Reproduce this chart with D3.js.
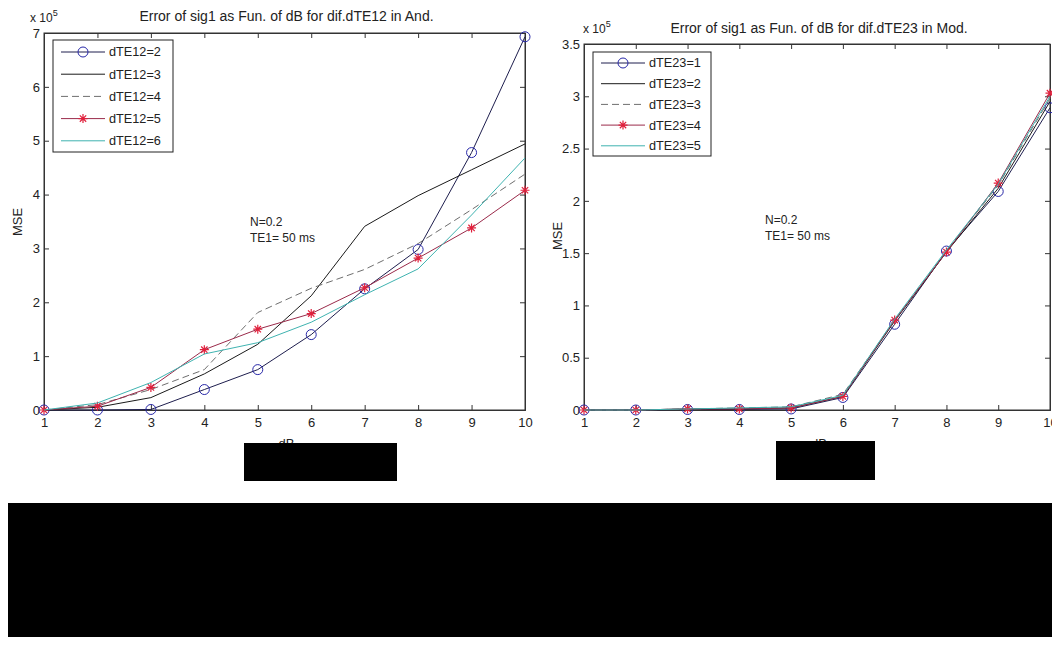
<!DOCTYPE html>
<html>
<head>
<meta charset="utf-8">
<script src="https://cdn.jsdelivr.net/npm/d3@7"></script>
<style>
  html, body { margin: 0; padding: 0; background: #fff; }
  svg { display: block; }
  text { font-family: "Liberation Sans", Arial, sans-serif; fill: #222; }
</style>
</head>
<body>
<svg id="fig" width="1052" height="652"></svg>
<script>
// dB values shared by both panels
const dB = [1, 2, 3, 4, 5, 6, 7, 8, 9, 10];

// Left panel: MSE (x 10^5) for different dTE12 values
const leftNames = ["dTE12=2", "dTE12=3", "dTE12=4", "dTE12=5", "dTE12=6"];
const mseTE12_2 = [0, 0.00, 0.01, 0.38, 0.75, 1.40, 2.25, 2.98, 4.78, 6.93];
const mseTE12_3 = [0, 0.05, 0.23, 0.67, 1.22, 2.12, 3.41, 3.98, 4.46, 4.94];
const mseTE12_4 = [0, 0.10, 0.38, 0.75, 1.81, 2.26, 2.61, 3.09, 3.72, 4.38];
const mseTE12_5 = [0, 0.07, 0.42, 1.12, 1.50, 1.79, 2.27, 2.82, 3.38, 4.08];
const mseTE12_6 = [0, 0.13, 0.51, 1.04, 1.25, 1.63, 2.14, 2.62, 3.62, 4.68];

// Right panel: MSE (x 10^5) for different dTE23 values
const rightNames = ["dTE23=1", "dTE23=2", "dTE23=3", "dTE23=4", "dTE23=5"];
const mseTE23_1 = [0, 0, 0.005, 0.005, 0.01, 0.12, 0.82, 1.52, 2.09, 2.89];
const mseTE23_2 = [0, 0, 0.01, 0.01, 0.02, 0.13, 0.85, 1.51, 2.12, 2.95];
const mseTE23_3 = [0, 0, 0.01, 0.02, 0.03, 0.15, 0.86, 1.52, 2.15, 2.98];
const mseTE23_4 = [0, 0, 0.01, 0.01, 0.02, 0.13, 0.86, 1.51, 2.17, 3.03];
const mseTE23_5 = [0, 0, 0.01, 0.02, 0.03, 0.14, 0.87, 1.53, 2.16, 3.00];

const leftYTicks = [0, 1, 2, 3, 4, 5, 6, 7];
const rightYTicks = [0, 0.5, 1, 1.5, 2, 2.5, 3, 3.5];

// line styles per series slot: circles, plain, dashed, stars, teal
const styles = [
  { line: "#1e1e4e", marker: "circle", mcolor: "#2828a8", dash: null },
  { line: "#1a1a1a", marker: null, dash: null },
  { line: "#6e6e6e", marker: null, dash: "7,4" },
  { line: "#9a2a4a", marker: "star", mcolor: "#e0203c", dash: null },
  { line: "#3fb3b0", marker: null, dash: null }
];

const svg = d3.select("#fig");

function asterisk(s) {
  const d = s * 0.707;
  return `M${-s},0L${s},0M0,${-s}L0,${s}M${-d},${-d}L${d},${d}M${-d},${d}L${d},${-d}`;
}

function drawPanel(cfg) {
  const { x, y, series, names, yTicks, title, titleY, expo, expoDx, legend, note } = cfg;
  const g = svg.append("g");
  const [x0, x1] = x.range();
  const [y0, y1] = y.range();

  // frame
  g.append("rect").attr("x", x0).attr("y", y1).attr("width", x1 - x0).attr("height", y0 - y1)
    .attr("fill", "#fff").attr("stroke", "#333").attr("stroke-width", 1);

  // axes with inward ticks
  const fmt = d3.format("");
  const bottom = g.append("g").attr("transform", `translate(0,${y0})`)
    .call(d3.axisBottom(x).tickValues(dB).tickSize(-5).tickPadding(8).tickFormat(fmt));
  g.append("g").attr("transform", `translate(0,${y1})`)
    .call(d3.axisTop(x).tickValues(dB).tickSize(-5).tickFormat(""));
  g.append("g").attr("transform", `translate(${x0},0)`)
    .call(d3.axisLeft(y).tickValues(yTicks).tickSize(-5).tickPadding(4).tickFormat(fmt));
  g.append("g").attr("transform", `translate(${x1},0)`)
    .call(d3.axisRight(y).tickValues(yTicks).tickSize(-5).tickFormat(""));
  g.selectAll(".domain").attr("stroke", "#333");
  g.selectAll(".tick line").attr("stroke", "#333");
  g.selectAll(".tick text").attr("font-size", 13).attr("fill", "#333")
    .attr("font-family", "Liberation Sans, Arial, sans-serif");
  bottom.selectAll(".tick text").attr("dy", "0.71em");

  // series
  const line = d3.line().x((d, i) => x(dB[i])).y(d => y(d));
  series.forEach((vals, k) => {
    const st = styles[k];
    g.append("path").datum(vals).attr("d", line).attr("fill", "none")
      .attr("stroke", st.line).attr("stroke-width", 1)
      .attr("stroke-dasharray", st.dash);
    if (st.marker === "circle") {
      g.selectAll(null).data(vals).join("circle")
        .attr("cx", (d, i) => x(dB[i])).attr("cy", d => y(d)).attr("r", 5)
        .attr("fill", "none").attr("stroke", st.mcolor).attr("stroke-width", 1);
    } else if (st.marker === "star") {
      g.selectAll(null).data(vals).join("path")
        .attr("transform", (d, i) => `translate(${x(dB[i])},${y(d)})`)
        .attr("d", asterisk(4.5)).attr("fill", "none")
        .attr("stroke", st.mcolor).attr("stroke-width", 1.2);
    }
  });

  // title and exponent label
  g.append("text").attr("x", (x0 + x1) / 2 + 2).attr("y", titleY).attr("text-anchor", "middle")
    .attr("font-size", 14).text(title);
  const ex = g.append("text").attr("x", x0 + expoDx).attr("y", y1 - 11).attr("font-size", 12);
  ex.append("tspan").text("x 10");
  ex.append("tspan").attr("dy", -6).attr("font-size", 9).text(expo);

  // axis labels
  g.append("text").attr("x", (x0 + x1) / 2 + 2).attr("y", y0 + 38).attr("text-anchor", "middle")
    .attr("font-size", 13).text("dB");
  g.append("text").attr("transform", `translate(${x0 - 22},${cfg.msY}) rotate(-90)`)
    .attr("text-anchor", "middle").attr("font-size", 13).text("MSE");

  // annotation
  g.append("text").attr("x", note[0]).attr("y", note[1]).attr("font-size", 12).text("N=0.2");
  g.append("text").attr("x", note[0]).attr("y", note[1] + 16).attr("font-size", 12).text("TE1= 50 ms");

  // legend
  const lg = g.append("g");
  lg.append("rect").attr("x", legend.x).attr("y", legend.y).attr("width", legend.w).attr("height", legend.h)
    .attr("fill", "#fff").attr("stroke", "#222").attr("stroke-width", 1);
  names.forEach((n, k) => {
    const st = styles[k];
    const yy = legend.y + legend.first + k * legend.step;
    const lx0 = legend.x + 8, lx1 = legend.x + 52;
    lg.append("line").attr("x1", lx0).attr("x2", lx1).attr("y1", yy).attr("y2", yy)
      .attr("stroke", st.line).attr("stroke-width", 1).attr("stroke-dasharray", st.dash);
    const mx = (lx0 + lx1) / 2;
    if (st.marker === "circle") {
      lg.append("circle").attr("cx", mx).attr("cy", yy).attr("r", 5)
        .attr("fill", "none").attr("stroke", st.mcolor);
    } else if (st.marker === "star") {
      lg.append("path").attr("transform", `translate(${mx},${yy})`).attr("d", asterisk(4.5))
        .attr("fill", "none").attr("stroke", st.mcolor).attr("stroke-width", 1.2);
    }
    lg.append("text").attr("x", lx1 + 4).attr("y", yy).attr("dy", "0.35em")
      .attr("font-size", 12.7).text(n);
  });
}

drawPanel({
  x: d3.scaleLinear().domain([1, 10]).range([44, 525]),
  y: d3.scaleLinear().domain([0, 7]).range([410, 33]),
  series: [mseTE12_2, mseTE12_3, mseTE12_4, mseTE12_5, mseTE12_6],
  names: leftNames, yTicks: leftYTicks,
  title: "Error of sig1 as Fun. of dB for dif.dTE12 in And.", titleY: 21, expo: "5", expoDx: -14,
  legend: { x: 53, y: 40, w: 120, h: 112, first: 12, step: 22.2 },
  note: [250, 226], msY: 222
});

drawPanel({
  x: d3.scaleLinear().domain([1, 10]).range([584, 1050]),
  y: d3.scaleLinear().domain([0, 3.5]).range([410, 44]),
  series: [mseTE23_1, mseTE23_2, mseTE23_3, mseTE23_4, mseTE23_5],
  names: rightNames, yTicks: rightYTicks,
  title: "Error of sig1 as Fun. of dB for dif.dTE23 in Mod.", titleY: 33, expo: "5", expoDx: -1,
  legend: { x: 593, y: 52, w: 118, h: 104, first: 11, step: 20.7 },
  note: [765, 224], msY: 236
});

// blacked-out areas
const blocks = [[244, 443, 153, 38], [776, 441, 99, 39], [8, 503, 1044, 134]];
svg.selectAll(null).data(blocks).join("rect")
  .attr("x", d => d[0]).attr("y", d => d[1]).attr("width", d => d[2]).attr("height", d => d[3])
  .attr("fill", "#000");
</script>
</body>
</html>
